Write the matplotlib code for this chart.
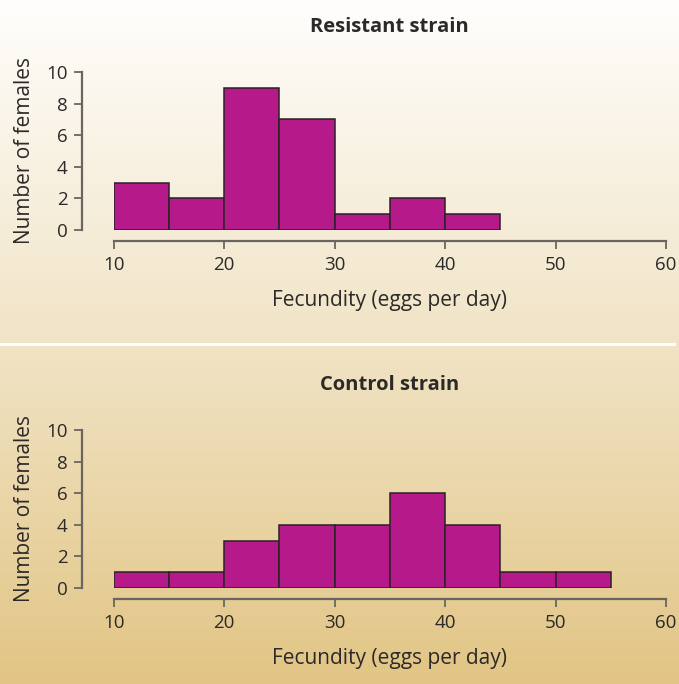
import numpy as np
import matplotlib
matplotlib.use("Agg")
import matplotlib.pyplot as plt
from matplotlib.colors import LinearSegmentedColormap

# bin edges shared by both histograms
bin_edges = [10, 15, 20, 25, 30, 35, 40, 45, 50, 55]
resistant_counts = [3, 2, 9, 7, 1, 2, 1, 0, 0]
control_counts = [1, 1, 3, 4, 4, 6, 4, 1, 1]
titles = ["Resistant strain", "Control strain"]
x_ticks = [10, 20, 30, 40, 50, 60]
y_ticks = [0, 2, 4, 6, 8, 10]

bar_color = "#B5198A"
edge_color = "#2a2226"
spine_color = "#6b6560"
text_color = "#2b2a28"

plt.rcParams['font.family'] = ['Open Sans', 'DejaVu Sans']

fig = plt.figure(figsize=(6.79, 6.84), dpi=100)

# cream-to-tan background gradient
bg = fig.add_axes([0, 0, 1, 1], zorder=-10)
cmap = LinearSegmentedColormap.from_list("bg", ["#FFFEFC", "#F1E4C6", "#E2C585"])
grad = np.linspace(0, 1, 256).reshape(-1, 1)
bg.imshow(grad, aspect="auto", cmap=cmap, extent=[0, 1, 0, 1], origin="upper")
bg.plot([0, 674 / 679], [1 - 344 / 684] * 2, color="white", lw=2.2)
bg.set_xlim(0, 1)
bg.set_ylim(0, 1)
bg.axis("off")

panels = [
    (resistant_counts, 1 - 230 / 684),
    (control_counts, 1 - 588 / 684),
]

for (counts, bottom), title in zip(panels, titles):
    ax = fig.add_axes([113.7 / 679, bottom, (666 - 113.7) / 679, 158 / 684])
    ax.patch.set_alpha(0)
    counts = np.array(counts)
    left = np.array(bin_edges[:-1])
    keep = counts > 0
    ax.bar(left[keep], counts[keep], width=np.diff(bin_edges)[keep], align="edge",
           color=bar_color, edgecolor=edge_color, linewidth=1.1)
    ax.set_xlim(10, 60)
    ax.set_ylim(0, 10)
    ax.set_xticks(x_ticks)
    ax.set_yticks(y_ticks)
    for s in ["top", "right"]:
        ax.spines[s].set_visible(False)
    ax.spines["left"].set_position(("outward", 23))
    ax.spines["bottom"].set_position(("outward", 8))
    ax.spines["left"].set_bounds(0, 10)
    ax.spines["bottom"].set_bounds(10, 60)
    for s in ["left", "bottom"]:
        ax.spines[s].set_color(spine_color)
        ax.spines[s].set_linewidth(1.6)
    ax.tick_params(axis="x", direction="out", length=6, width=1.3,
                   color=spine_color, labelsize=13.5, labelcolor=text_color, pad=5)
    ax.tick_params(axis="y", direction="out", length=6, width=1.3,
                   color=spine_color, labelsize=13.5, labelcolor=text_color, pad=4)
    ax.set_xlabel("Fecundity (eggs per day)", fontsize=15, color=text_color, labelpad=11)
    ax.set_ylabel("Number of females", fontsize=15, color=text_color, labelpad=8)
    ax.set_title(title, fontsize=14.5, fontweight="bold", color=text_color, pad=29)

fig.savefig("out.png", dpi=100)
